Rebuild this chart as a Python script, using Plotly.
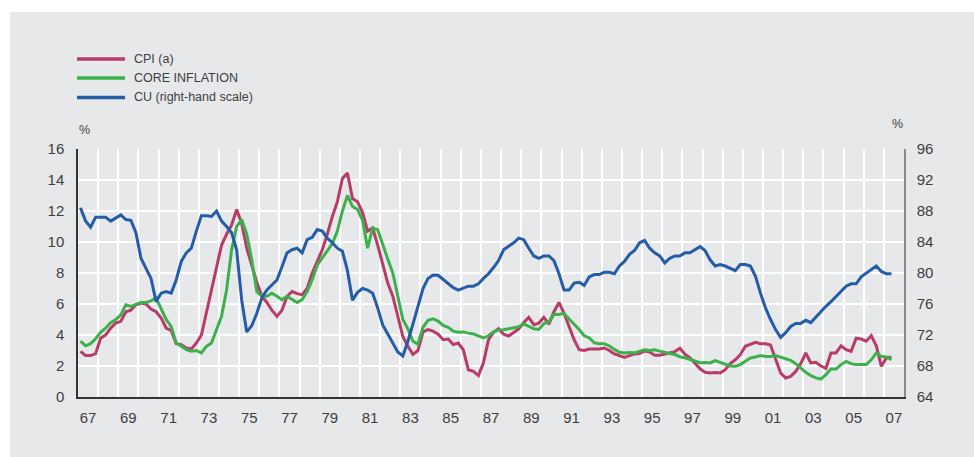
import plotly.graph_objects as go
import pandas as pd

# ---------------- data ----------------
quarters = pd.period_range("1967Q1", "2007Q2", freq="Q")

cpi = [2.95, 2.67, 2.67, 2.8, 3.8, 4.0, 4.45, 4.77, 4.88, 5.5,
       5.6, 5.95, 6.06, 6.0, 5.68, 5.5, 5.1, 4.45, 4.3, 3.44,
       3.38, 3.16, 3.1, 3.48, 4.0, 5.4, 6.9, 8.2, 9.8, 10.5,
       11.1, 12.1, 11.2, 9.6, 8.5, 7.4, 6.5, 6.1, 5.6, 5.2,
       5.6, 6.5, 6.8, 6.67, 6.6, 7.0, 8.0, 8.75, 9.5, 10.5,
       11.65, 12.6, 14.1, 14.45, 12.8, 12.6, 11.9, 10.7, 10.9, 9.8,
       8.5, 7.35, 6.5, 5.2, 3.9, 3.27, 2.75, 3.0, 4.2, 4.35,
       4.25, 4.05, 3.7, 3.74, 3.38, 3.48, 3.05, 1.76, 1.65, 1.38,
       2.2, 3.7, 4.17, 4.4, 4.05, 3.93, 4.15, 4.4, 4.8, 5.14,
       4.67, 4.77, 5.14, 4.7, 5.5, 6.1, 5.4, 4.6, 3.7, 3.05,
       3.0, 3.1, 3.1, 3.1, 3.16, 3.0, 2.78, 2.67, 2.55, 2.67,
       2.78, 2.8, 2.97, 2.9, 2.69, 2.7, 2.77, 2.82, 2.93, 3.14,
       2.76, 2.53, 2.17, 1.82, 1.6, 1.55, 1.58, 1.55, 1.76, 2.15,
       2.4, 2.73, 3.27, 3.38, 3.53, 3.44, 3.44, 3.35, 2.4, 1.55,
       1.23, 1.33, 1.65, 2.15, 2.84, 2.2, 2.24, 2.0, 1.85, 2.84,
       2.84, 3.3, 3.05, 2.95, 3.8, 3.74, 3.6, 3.96, 3.3, 1.98,
       2.52, 2.58]

core = [3.6, 3.3, 3.44, 3.76, 4.17, 4.45, 4.8, 5.0, 5.3, 5.95,
        5.85, 6.0, 6.1, 6.1, 6.2, 6.4, 5.74, 5.0, 4.56, 3.48,
        3.27, 3.05, 2.95, 3.0, 2.84, 3.27, 3.48, 4.34, 5.2, 6.9,
        9.5, 11.0, 11.45, 10.5, 8.86, 6.8, 6.5, 6.5, 6.7, 6.5,
        6.28, 6.5, 6.28, 6.1, 6.28, 6.8, 7.57, 8.5, 8.97, 9.4,
        9.9, 10.7, 12.0, 13.0, 12.3, 12.1, 11.4, 9.6, 10.9, 10.8,
        9.8, 8.9, 8.0, 6.4, 5.0, 4.4, 3.6, 3.4, 4.5, 4.95,
        5.05, 4.9, 4.62, 4.5, 4.25, 4.18, 4.2, 4.12, 4.07, 3.95,
        3.82, 3.95, 4.2, 4.33, 4.34, 4.4, 4.45, 4.53, 4.72, 4.55,
        4.4, 4.36, 4.74, 4.86, 5.33, 5.32, 5.4, 5.03, 4.7, 4.35,
        3.95, 3.82, 3.5, 3.44, 3.44, 3.29, 3.07, 2.89, 2.84, 2.87,
        2.85, 2.93, 3.04, 3.0, 3.05, 2.96, 2.86, 2.81, 2.74, 2.6,
        2.53, 2.42, 2.31, 2.21, 2.22, 2.2, 2.35, 2.24, 2.15, 2.0,
        1.98, 2.09, 2.3, 2.52, 2.58, 2.67, 2.62, 2.62, 2.67, 2.58,
        2.45, 2.37, 2.15, 1.87, 1.59, 1.38, 1.23, 1.16, 1.44, 1.8,
        1.8, 2.09, 2.3, 2.15, 2.09, 2.09, 2.09, 2.4, 2.84, 2.62,
        2.58, 2.4]

cu = [88.4, 86.7, 85.9, 87.2, 87.2, 87.2, 86.7, 87.1, 87.5, 86.9,
      86.8, 85.2, 81.9, 80.6, 79.3, 76.3, 77.4, 77.6, 77.4, 79.1,
      81.5, 82.6, 83.2, 85.4, 87.4, 87.4, 87.3, 88.0, 86.7, 86.0,
      85.2, 83.0, 76.5, 72.4, 73.2, 74.8, 76.8, 77.8, 78.5, 79.1,
      80.8, 82.6, 83.0, 83.2, 82.6, 84.3, 84.6, 85.6, 85.4, 84.5,
      83.9, 83.2, 82.8, 80.3, 76.5, 77.5, 78.0, 77.8, 77.4, 75.5,
      73.3, 72.1, 71.1, 69.8, 69.3, 71.2, 73.4, 75.7, 78.0, 79.3,
      79.75, 79.7, 79.2, 78.6, 78.1, 77.8, 78.1, 78.3, 78.3, 78.6,
      79.3, 79.9, 80.7, 81.6, 83.0, 83.4, 83.9, 84.5, 84.3, 83.2,
      82.2, 81.9, 82.2, 82.2, 81.6, 79.9, 77.8, 77.8, 78.7, 78.8,
      78.4, 79.5, 79.8, 79.8, 80.1, 80.1, 79.9, 80.9, 81.5, 82.4,
      82.9, 83.9, 84.2, 83.2, 82.6, 82.2, 81.3, 81.9, 82.2, 82.2,
      82.6, 82.6, 83.0, 83.4, 82.9, 81.7, 80.9, 81.1, 80.9, 80.6,
      80.3, 81.1, 81.1, 80.9, 79.6, 77.4, 75.5, 74.0, 72.7, 71.7,
      72.3, 73.1, 73.5, 73.5, 73.9, 73.6, 74.3, 75.1, 75.7, 76.3,
      77.0, 77.6, 78.3, 78.6, 78.6, 79.5, 80.0, 80.5, 80.9, 80.2,
      79.9, 79.9]

series_names = ["CPI (a)", "CORE INFLATION", "CU (right-hand scale)"]
series_colors = ["#b83c66", "#3cb04c", "#245ca8"]

label_years = list(range(1967, 2008, 2))
label_text = [str(y)[-2:] for y in label_years]

# x position of each quarter (mid-quarter, decimal years)
x = [p.year + (p.quarter - 0.5) / 4 for p in quarters]

# ---------------- figure ----------------
W, H = 974, 457
ML, MR, MT, MB = 78, 70, 149, 60
PW, PH = W - ML - MR, H - MT - MB
BG = "#e7e8ea"
FONT = "Liberation Sans, Arial, Helvetica, sans-serif"
TXT = "#3e3e3e"


def px(xp):
    return (xp - ML) / PW


def py(yp):
    return (H - MB - yp) / PH


fig = go.Figure()
fig.add_trace(go.Scatter(x=x, y=cpi, name=series_names[0], mode="lines",
                         line=dict(color=series_colors[0], width=3)))
fig.add_trace(go.Scatter(x=x, y=core, name=series_names[1], mode="lines",
                         line=dict(color=series_colors[1], width=3)))
fig.add_trace(go.Scatter(x=x, y=cu, name=series_names[2], mode="lines", yaxis="y2",
                         line=dict(color=series_colors[2], width=3)))

shapes = [
    dict(type="rect", xref="paper", yref="paper", x0=px(10), x1=px(W + 5),
         y0=py(H + 5), y1=py(12), fillcolor=BG, line=dict(width=0), layer="below"),
]
annotations = []
leg_y = [59, 78, 97.5]
for name, col, yy in zip(series_names, series_colors, leg_y):
    shapes.append(dict(type="line", xref="paper", yref="paper",
                       x0=px(77), x1=px(125), y0=py(yy), y1=py(yy),
                       line=dict(color=col, width=3.5)))
    annotations.append(dict(xref="paper", yref="paper", x=px(132), y=py(yy),
                            text=name, showarrow=False, xanchor="left", yanchor="middle",
                            font=dict(family=FONT, size=12.5, color=TXT)))
annotations.append(dict(xref="paper", yref="paper", x=px(84), y=py(130), text="%",
                        showarrow=False, xanchor="center", yanchor="middle",
                        font=dict(family=FONT, size=12.5, color=TXT)))
annotations.append(dict(xref="paper", yref="paper", x=px(897), y=py(124), text="%",
                        showarrow=False, xanchor="center", yanchor="middle",
                        font=dict(family=FONT, size=12.5, color=TXT)))

fig.update_layout(
    width=W, height=H,
    margin=dict(l=ML, r=MR, t=MT, b=MB),
    paper_bgcolor="white",
    plot_bgcolor=BG,
    showlegend=False,
    shapes=shapes,
    annotations=annotations,
    font=dict(family=FONT, size=15, color=TXT),
    xaxis=dict(
        range=[1967, 2008],
        tickmode="array",
        tickvals=[y + 0.5 for y in label_years],
        ticktext=label_text,
        showgrid=False,
        ticks="",
        ticklabelstandoff=6,
        showline=True, linecolor="#333333", linewidth=1.5,
        zeroline=False,
        minor=dict(tickmode="linear", tick0=1967, dtick=1, showgrid=True,
                   gridcolor="white", gridwidth=1.6, ticks=""),
        tickfont=dict(family=FONT, size=15, color=TXT),
    ),
    yaxis=dict(
        range=[0, 16], dtick=2, tick0=0,
        showgrid=True, gridcolor="white", gridwidth=1.6,
        zeroline=False,
        showline=True, linecolor="#333333", linewidth=1.5,
        ticks="", ticklabelstandoff=9,
        tickfont=dict(family=FONT, size=15, color=TXT),
    ),
    yaxis2=dict(
        range=[64, 96], dtick=4, tick0=64,
        overlaying="y", side="right",
        showgrid=False, zeroline=False,
        showline=True, linecolor="#8a8a8a", linewidth=1.5,
        ticks="", ticklabelstandoff=8,
        tickfont=dict(family=FONT, size=15, color=TXT),
    ),
)

fig.write_html("out.html",
               config={"displayModeBar": False},
               post_script="document.body.style.margin='0px';document.body.style.padding='0px';")
